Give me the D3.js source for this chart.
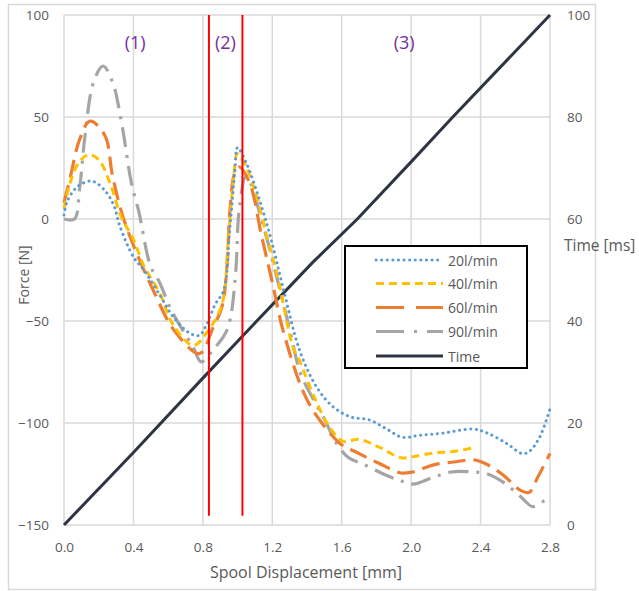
<!DOCTYPE html>
<html>
<head>
<meta charset="utf-8">
<script src="https://cdn.jsdelivr.net/npm/d3@7/dist/d3.min.js"></script>
<style>
  html, body { margin: 0; padding: 0; background: #fff; }
  svg { display: block; }
  text { font-family: "Open Sans", "Liberation Sans", sans-serif; }
</style>
</head>
<body>
<svg id="chart" width="639" height="591"></svg>
<script>
// ---------- data ----------
const xTicks = [0.0, 0.4, 0.8, 1.2, 1.6, 2.0, 2.4, 2.8];
const forceTicks = [-150, -100, -50, 0, 50, 100];
const timeTicks = [0, 20, 40, 60, 80, 100];

const seriesNames = ["20l/min", "40l/min", "60l/min", "90l/min", "Time"];

// [displacement mm, force N]
const flow20 = [
  [0.00, 2], [0.02, 9], [0.08, 16], [0.16, 18.6], [0.235, 14], [0.29, 6], [0.32, -3],
  [0.40, -18.6], [0.46, -25], [0.55, -37], [0.63, -48], [0.725, -56], [0.78, -57],
  [0.82, -52], [0.87, -42], [0.92, -35], [0.955, -5], [0.985, 24], [1.00, 35],
  [1.05, 27.5], [1.12, 11], [1.19, -9], [1.26, -33], [1.36, -65], [1.46, -83],
  [1.55, -92], [1.65, -97], [1.76, -98.5], [1.86, -103], [1.95, -107], [2.05, -106],
  [2.18, -105], [2.36, -103], [2.44, -105], [2.55, -110], [2.64, -115], [2.68, -114],
  [2.74, -107], [2.80, -93]
];
const flow40 = [
  [0.00, 5], [0.035, 17.6], [0.08, 27], [0.14, 31.5], [0.20, 29], [0.265, 17.6],
  [0.33, 1], [0.40, -10], [0.46, -23], [0.55, -36], [0.63, -52], [0.745, -62],
  [0.82, -56], [0.91, -42], [0.945, -12], [0.975, 18], [1.00, 32], [1.05, 25.5],
  [1.11, 11], [1.17, -9], [1.23, -28], [1.32, -63], [1.36, -70], [1.44, -87],
  [1.53, -102], [1.61, -109], [1.70, -108], [1.82, -112], [1.94, -117], [2.01, -116.5],
  [2.13, -114.7], [2.24, -114], [2.37, -112]
];
const flow60 = [
  [0.00, 8], [0.035, 20], [0.09, 39], [0.15, 48], [0.235, 41], [0.28, 21], [0.34, 1],
  [0.42, -17], [0.52, -36], [0.63, -54], [0.78, -66], [0.86, -53], [0.91, -43],
  [0.94, -22], [0.955, 3], [0.985, 23], [1.01, 25.5], [1.07, 17.6], [1.14, -9],
  [1.20, -31], [1.26, -54], [1.38, -85], [1.46, -97], [1.59, -110], [1.70, -115],
  [1.82, -120], [1.94, -124.5], [2.01, -124], [2.13, -120.5], [2.26, -119], [2.36, -118],
  [2.43, -120], [2.53, -125.5], [2.63, -133], [2.68, -134], [2.73, -126.5], [2.80, -115]
];
const flow90 = [
  [0.00, 0], [0.06, 0], [0.09, 15], [0.12, 40], [0.17, 67], [0.225, 75], [0.28, 67],
  [0.33, 48], [0.39, 17], [0.43, 4], [0.50, -23.5], [0.55, -31], [0.62, -45],
  [0.745, -63], [0.79, -70], [0.86, -64], [0.93, -56], [0.96, -48], [0.99, -25],
  [1.01, 5], [1.05, 21], [1.15, -4], [1.23, -30], [1.30, -54], [1.36, -75], [1.44, -89],
  [1.50, -98], [1.57, -110], [1.64, -117], [1.72, -120], [1.84, -125], [1.93, -128],
  [2.01, -130], [2.13, -126.5], [2.23, -124], [2.36, -124], [2.44, -125], [2.53, -129],
  [2.63, -136], [2.70, -141], [2.77, -138], [2.80, -137]
];
// [displacement mm, time ms]
const timeSeries = [
  [0.0, 0], [0.4, 14.2], [0.8, 28.8], [1.1, 39.6], [1.43, 51.4], [1.69, 60],
  [2.0, 71.2], [2.24, 80], [2.8, 100]
];

const regionBounds = [0.835, 1.028];
const regionLabels = ["(1)", "(2)", "(3)"];
const regionLabelX = [0.41, 0.93, 1.96];
const regionLabelForce = 87;

// ---------- layout ----------
const svg = d3.select("#chart");
const x = d3.scaleLinear().domain([0, 2.8]).range([64, 550]);
const yF = d3.scaleLinear().domain([-150, 100]).range([525, 15]);
const yT = d3.scaleLinear().domain([0, 100]).range([525, 15]);

const gridColor = "#d9d9d9";
const textColor = "#595959";

// outer chart border
svg.append("rect").attr("x", 8.5).attr("y", 4.5).attr("width", 587).attr("height", 585)
  .attr("fill", "#fff").attr("stroke", gridColor).attr("stroke-width", 1.5);

// grid
svg.append("g").selectAll("line").data(xTicks).join("line")
  .attr("x1", d => x(d)).attr("x2", d => x(d))
  .attr("y1", yF(100)).attr("y2", yF(-150))
  .attr("stroke", gridColor).attr("stroke-width", 1.5);
svg.append("g").selectAll("line").data(forceTicks).join("line")
  .attr("x1", x(0)).attr("x2", x(2.8))
  .attr("y1", d => yF(d)).attr("y2", d => yF(d))
  .attr("stroke", gridColor).attr("stroke-width", 1.5);

// axes (labels only)
const axX = svg.append("g").attr("transform", `translate(0,${yF(-150) + 14})`)
  .call(d3.axisBottom(x).tickValues(xTicks).tickFormat(d3.format(".1f")).tickSize(0));
const axL = svg.append("g").attr("transform", `translate(${x(0) - 12},0)`)
  .call(d3.axisLeft(yF).tickValues(forceTicks).tickSize(0));
const axR = svg.append("g").attr("transform", `translate(${x(2.8) + 14},0)`)
  .call(d3.axisRight(yT).tickValues(timeTicks).tickSize(0));
[axX, axL, axR].forEach(a => {
  a.select(".domain").remove();
  a.selectAll("text").attr("fill", textColor).style("font-size", "13.5px")
    .style("font-family", '"Open Sans", sans-serif');
});
axX.selectAll("text").attr("dy", "0.71em");

// axis titles
svg.append("text").text("Spool Displacement [mm]")
  .attr("x", 306).attr("y", 578).attr("text-anchor", "middle")
  .attr("fill", textColor).style("font-size", "16px");
svg.append("text").text("Force [N]")
  .attr("transform", "translate(29,275) rotate(-90)").attr("text-anchor", "middle")
  .attr("fill", textColor).style("font-size", "14px");
svg.append("text").text("Time [ms]")
  .attr("x", 564).attr("y", 251)
  .attr("fill", textColor).style("font-size", "15.5px");

// series
const styles = [
  { data: flow20, color: "#5b9bd5", dash: "0.1 5.5", width: 3, cap: "round" },
  { data: flow40, color: "#ffc000", dash: "8 5", width: 3, cap: "butt" },
  { data: flow60, color: "#ed7d31", dash: "18 8", width: 3.2, cap: "butt" },
  { data: flow90, color: "#a5a5a5", dash: "20 8 3 8", width: 3.2, cap: "butt" }
];
const lineF = d3.line().x(d => x(d[0])).y(d => yF(d[1])).curve(d3.curveCatmullRom.alpha(0.5));
const lineT = d3.line().x(d => x(d[0])).y(d => yT(d[1]));

svg.append("path").datum(timeSeries).attr("d", lineT)
  .attr("fill", "none").attr("stroke", "#2e3444").attr("stroke-width", 3);

styles.slice().reverse().forEach(s => {
  svg.append("path").datum(s.data).attr("d", lineF)
    .attr("fill", "none").attr("stroke", s.color).attr("stroke-width", s.width)
    .attr("stroke-dasharray", s.dash).attr("stroke-linecap", s.cap);
});

// red region boundaries
svg.append("g").selectAll("line").data(regionBounds).join("line")
  .attr("x1", d => x(d)).attr("x2", d => x(d))
  .attr("y1", yF(100)).attr("y2", yF(-145.5))
  .attr("stroke", "#ff0000").attr("stroke-width", 2);

// region labels
svg.append("g").selectAll("text").data(regionLabels).join("text")
  .text(d => d)
  .attr("x", (d, i) => x(regionLabelX[i])).attr("y", yF(regionLabelForce))
  .attr("text-anchor", "middle").attr("dominant-baseline", "central")
  .attr("fill", "#7030a0").style("font-size", "18px");

// legend
const lg = svg.append("g");
lg.append("rect").attr("x", 345).attr("y", 246).attr("width", 182).attr("height", 122)
  .attr("fill", "#fff").attr("stroke", "#000").attr("stroke-width", 2);
const legendStyles = [
  ...styles.map(s => ({ color: s.color, dash: s.dash, width: s.width, cap: s.cap })),
  { color: "#2e3444", dash: null, width: 3, cap: "butt" }
];
const legY = [260, 283.5, 307.5, 331.5, 356];
seriesNames.forEach((name, i) => {
  const st = legendStyles[i];
  lg.append("line").attr("x1", 376).attr("x2", 443).attr("y1", legY[i]).attr("y2", legY[i])
    .attr("stroke", st.color).attr("stroke-width", st.width)
    .attr("stroke-dasharray", i === 2 ? "28 12" : (i === 3 ? "28 10 3 10" : st.dash))
    .attr("stroke-linecap", st.cap);
  lg.append("text").text(name).attr("x", 448).attr("y", legY[i])
    .attr("dominant-baseline", "central").attr("fill", textColor).style("font-size", "14px");
});
</script>
</body>
</html>
